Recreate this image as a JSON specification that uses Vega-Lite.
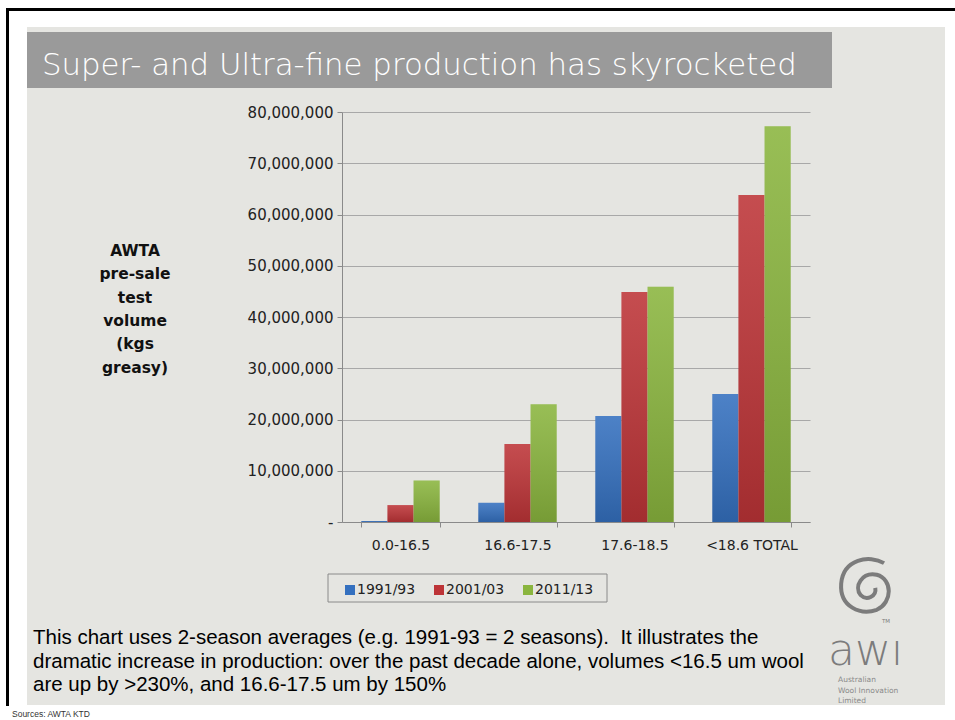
{
  "$schema": "https://vega.github.io/schema/vega-lite/v6.json",
  "width": 468,
  "height": 410,
  "autosize": "none",
  "padding": {"left": 342, "top": 112, "right": 145, "bottom": 198},
  "background": "#e5e5e1",
  "config": {
    "view": {"stroke": null},
    "font": "DejaVu Sans"
  },
  "data": {
    "values": [
      {"range": "0.0-16.5", "period": "1991/93", "kg": 200000},
      {"range": "0.0-16.5", "period": "2001/03", "kg": 3300000},
      {"range": "0.0-16.5", "period": "2011/13", "kg": 8100000},
      {"range": "16.6-17.5", "period": "1991/93", "kg": 3750000},
      {"range": "16.6-17.5", "period": "2001/03", "kg": 15200000},
      {"range": "16.6-17.5", "period": "2011/13", "kg": 23000000},
      {"range": "17.6-18.5", "period": "1991/93", "kg": 20700000},
      {"range": "17.6-18.5", "period": "2001/03", "kg": 44900000},
      {"range": "17.6-18.5", "period": "2011/13", "kg": 45900000},
      {"range": "<18.6 TOTAL", "period": "1991/93", "kg": 25000000},
      {"range": "<18.6 TOTAL", "period": "2001/03", "kg": 63800000},
      {"range": "<18.6 TOTAL", "period": "2011/13", "kg": 77200000}
    ]
  },
  "layer": [
    {
      "data": {"values": [{}]},
      "mark": {"type": "rect", "x": -342, "x2": 613, "y": -112, "y2": -85, "fill": "#ffffff"},
      "encoding": {}
    },
    {
      "data": {"values": [{}]},
      "mark": {"type": "rect", "x": -342, "x2": -315, "y": -112, "y2": 608, "fill": "#ffffff"},
      "encoding": {}
    },
    {
      "data": {"values": [{}]},
      "mark": {"type": "rect", "x": 603, "x2": 613, "y": -112, "y2": 608, "fill": "#ffffff"},
      "encoding": {}
    },
    {
      "data": {"values": [{}]},
      "mark": {"type": "rect", "x": -342, "x2": 613, "y": 593, "y2": 608, "fill": "#ffffff"},
      "encoding": {}
    },
    {
      "data": {"values": [{}]},
      "mark": {"type": "rect", "x": -336, "x2": 613, "y": -104, "y2": -101, "fill": "#000000"},
      "encoding": {}
    },
    {
      "data": {"values": [{}]},
      "mark": {"type": "rect", "x": -336, "x2": -333, "y": -104, "y2": 594, "fill": "#000000"},
      "encoding": {}
    },
    {
      "data": {"values": [{}]},
      "mark": {"type": "rect", "x": -315, "x2": 490, "y": -80, "y2": -24, "fill": "#9a9a9a"},
      "encoding": {}
    },
    {
      "data": {"values": [{}]},
      "mark": {"type": "text", "x": -300, "y": -37, "text": "Super- and Ultra-fine production has skyrocketed", "align": "left", "baseline": "alphabetic", "fontSize": 30.8, "fontWeight": 300, "color": "#ffffff"},
      "encoding": {}
    },
    {
      "data": {"values": [{}]},
      "mark": {"type": "text", "x": -207, "y": 144, "text": ["AWTA", "pre-sale", "test", "volume", "(kgs", "greasy)"], "align": "center", "baseline": "alphabetic", "lineHeight": 23.3, "fontSize": 15.5, "fontWeight": "bold", "color": "#111111"},
      "encoding": {}
    },
    {
      "data": {"values": [{}]},
      "mark": {"type": "text", "x": -309, "y": 532, "text": ["This chart uses 2-season averages (e.g. 1991-93 = 2 seasons).\u00a0 It illustrates the", "dramatic increase in production: over the past decade alone, volumes <16.5 um wool", "are up by >230%, and 16.6-17.5 um by 150%"], "align": "left", "baseline": "alphabetic", "lineHeight": 23.5, "font": "Liberation Sans", "fontSize": 20.5, "color": "#000000"},
      "encoding": {}
    },
    {
      "data": {"values": [{}]},
      "mark": {"type": "text", "x": -330, "y": 605, "text": "Sources: AWTA KTD", "align": "left", "baseline": "alphabetic", "font": "Liberation Sans", "fontSize": 8.5, "color": "#333333"},
      "encoding": {}
    },
    {
      "data": {"values": [{}]},
      "mark": {"type": "rect", "x": -14, "x2": 265, "y": 462, "y2": 490, "fill": null, "stroke": "#8a8a8a", "strokeWidth": 1},
      "encoding": {}
    },
    {
      "data": {"values": [{}]},
      "mark": {"type": "point", "x": 526, "y": 473, "shape": "M0.55,-0.75 C0.05,-1.05 -0.85,-0.9 -0.92,-0.05 C-0.98,0.75 -0.25,1.05 0.3,0.85 C0.85,0.6 0.85,-0.2 0.3,-0.35 C-0.2,-0.45 -0.5,0.05 -0.25,0.35 C-0.05,0.55 0.3,0.4 0.25,0.1", "size": 3400, "filled": false, "stroke": "#7c7c7c", "strokeWidth": 4, "opacity": 1},
      "encoding": {}
    },
    {
      "data": {"values": [{}]},
      "mark": {"type": "text", "x": 540, "y": 511, "text": "TM", "align": "left", "baseline": "alphabetic", "fontSize": 5.5, "color": "#7c7c7c"},
      "encoding": {}
    },
    {
      "data": {"values": [{}]},
      "mark": {"type": "text", "x": 486, "y": 553, "text": "aw\u0131", "align": "left", "baseline": "alphabetic", "fontSize": 44, "fontWeight": 200, "color": "#7c7c7c"},
      "encoding": {}
    },
    {
      "data": {"values": [{}]},
      "mark": {"type": "text", "x": 496, "y": 570, "text": ["Australian", "Wool Innovation", "Limited"], "align": "left", "baseline": "alphabetic", "lineHeight": 10.5, "fontSize": 7.5, "color": "#8a8a8a"},
      "encoding": {}
    },
    {
      "mark": {"type": "bar"},
      "encoding": {
        "x": {
          "field": "range", "type": "nominal", "sort": null,
          "scale": {"paddingInner": 0.33, "paddingOuter": 0.165},
          "axis": {"title": null, "labelAngle": 0, "labelFontSize": 14, "labelColor": "#222222", "domainColor": "#8a8a8a", "tickColor": "#8a8a8a", "tickBand": "extent", "tickSize": 5, "labelPadding": 11, "grid": false}
        },
        "xOffset": {"field": "period", "type": "nominal", "sort": null},
        "y": {
          "field": "kg", "type": "quantitative",
          "scale": {"domain": [0, 80000000], "nice": false},
          "axis": {"title": null, "values": [0, 10000000, 20000000, 30000000, 40000000, 50000000, 60000000, 70000000, 80000000], "format": ",d", "labelExpr": "datum.value === 0 ? '-\u00a0\u00a0\u00a0\u00a0' : datum.label", "labelFontSize": 15, "labelColor": "#222222", "labelPadding": 4, "tickSize": 5, "tickColor": "#8a8a8a", "domainColor": "#8a8a8a", "grid": true, "gridColor": "#a8a8a8", "gridWidth": 1.2}
        },
        "color": {
          "field": "period", "type": "nominal", "sort": null,
          "scale": {"domain": ["1991/93", "2001/03", "2011/13"], "range": ["#3470bf", "#bd3437", "#8ab53e"]},
          "legend": {"title": null, "orient": "none", "direction": "horizontal", "legendX": 1, "legendY": 471, "symbolType": "square", "symbolSize": 100, "symbolStrokeWidth": 0, "labelFontSize": 14, "labelColor": "#222222", "labelOffset": 0, "columnPadding": 16, "padding": 0}
        }
      }
    },
    {
      "mark": {"type": "bar", "color": {"gradient": "linear", "x1": 0, "y1": 0, "x2": 0, "y2": 1, "stops": [{"offset": 0, "color": "rgba(255,255,255,0.12)"}, {"offset": 1, "color": "rgba(0,0,0,0.14)"}]}},
      "encoding": {
        "x": {"field": "range", "type": "nominal", "sort": null},
        "xOffset": {"field": "period", "type": "nominal", "sort": null},
        "y": {"field": "kg", "type": "quantitative"}
      }
    }
  ]
}
